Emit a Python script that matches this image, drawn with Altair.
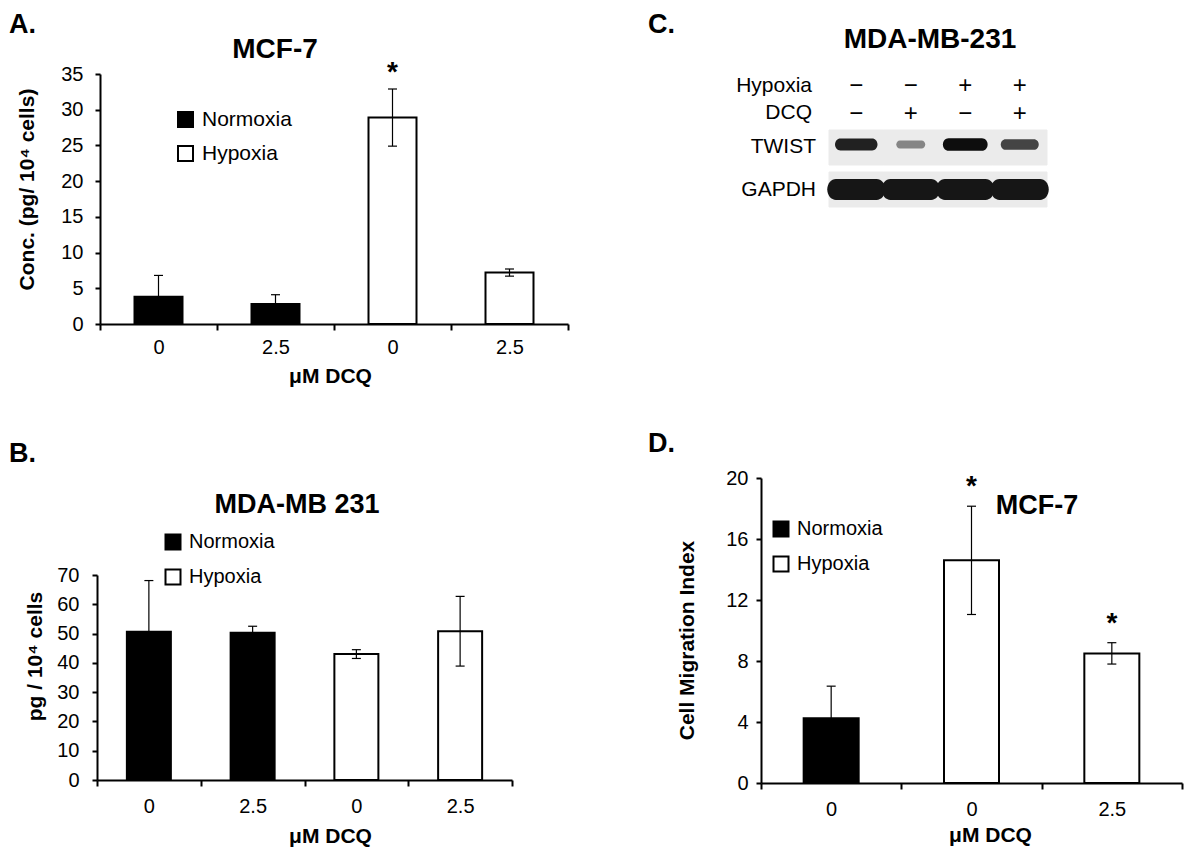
import altair as alt
import pandas as pd

FONT = "Liberation Sans"
W, H = 1184, 840
MARGIN = 8


def px(v):
    return v - MARGIN


# ---------------- data ----------------
conditions = ["Normoxia", "Hypoxia"]

a_condition = ["Normoxia", "Normoxia", "Hypoxia", "Hypoxia"]
a_dose = ["0", "2.5", "0", "2.5"]
a_mean = [3.8, 2.8, 28.9, 7.2]
a_err = [3.0, 1.3, 4.0, 0.5]
a_star = ["", "", "*", ""]
a_yticks = [0, 5, 10, 15, 20, 25, 30, 35]

b_condition = ["Normoxia", "Normoxia", "Hypoxia", "Hypoxia"]
b_dose = ["0", "2.5", "0", "2.5"]
b_mean = [50.6, 50.3, 43.0, 50.8]
b_err = [17.5, 2.2, 1.5, 11.9]
b_star = ["", "", "", ""]
b_yticks = [0, 10, 20, 30, 40, 50, 60, 70]

d_condition = ["Normoxia", "Hypoxia", "Hypoxia"]
d_dose = ["0", "0", "2.5"]
d_mean = [4.25, 14.6, 8.5]
d_err = [2.1, 3.55, 0.7]
d_star = ["", "*", "*"]
d_yticks = [0, 4, 8, 12, 16, 20]

c_lanes = [1, 2, 3, 4]
c_hypoxia = ["\u2212", "\u2212", "+", "+"]
c_dcq = ["\u2212", "+", "\u2212", "+"]
c_twist = [0.9, 0.42, 1.0, 0.72]
c_gapdh = [1.0, 1.0, 1.0, 1.0]
c_rows = ["TWIST", "GAPDH"]


def frame(cond, dose, mean, err, star):
    df = pd.DataFrame({"condition": cond, "dose": dose, "mean": mean,
                       "err": err, "star": star})
    df["key"] = df["condition"] + "|" + df["dose"]
    df["lo"] = df["mean"] - df["err"]
    df["hi"] = df["mean"] + df["err"]
    return df


def bar_panel(df, ymax, yticks, ytitle, x0, x1, y0, y1, bar, ylab_pad,
              xlab_pad, ytitle_xy, xtitle_xy, legend_xy, legend_font, star_dy):
    keys = list(df["key"])
    xs = alt.Scale(domain=keys, range=[px(x0), px(x1)],
                   paddingInner=0, paddingOuter=0)
    ys = alt.Scale(domain=[0, ymax], range=[px(y0), px(y1)], nice=False, zero=True)
    xaxis = alt.Axis(orient="bottom", offset=px(y0) - H, tickBand="extent",
                     tickSize=6, labelAngle=0, labelPadding=xlab_pad,
                     labelExpr="split(datum.label, '|')[1]",
                     title="\u03bcM DCQ", titleX=px(xtitle_xy[0]),
                     titleY=xtitle_xy[1] - y0, titleBaseline="middle",
                     titleAlign="center", grid=False)
    yaxis = alt.Axis(orient="left", offset=-px(x0), values=yticks, tickSize=5,
                     labelPadding=ylab_pad, title=ytitle,
                     titleX=ytitle_xy[0] - x0, titleY=px(ytitle_xy[1]),
                     titleAngle=270, titleBaseline="middle",
                     titleAlign="center", grid=False)
    xenc = alt.X("key:N", scale=xs)
    legend = alt.Legend(orient="none", legendX=px(legend_xy[0]),
                        legendY=px(legend_xy[1]), title=None,
                        symbolType="square", symbolSize=225,
                        symbolStrokeColor="black", symbolStrokeWidth=2,
                        symbolOpacity=1, labelFont=FONT,
                        labelFontSize=legend_font, labelColor="black",
                        rowPadding=11, labelOffset=6, padding=0)
    bars = alt.Chart(df).mark_bar(size=bar, stroke="black", strokeWidth=2).encode(
        x=alt.X("key:N", scale=xs, axis=xaxis),
        y=alt.Y("mean:Q", scale=ys, axis=yaxis),
        fill=alt.Fill("condition:N",
                      scale=alt.Scale(domain=conditions, range=["black", "white"]),
                      legend=legend),
    )
    rule = alt.Chart(df).mark_rule(color="black", strokeWidth=1.2).encode(
        x=xenc, y=alt.Y("lo:Q", scale=ys), y2="hi:Q")
    cap_hi = alt.Chart(df).mark_tick(orient="horizontal", size=9, thickness=1.2,
                                     color="black", opacity=1).encode(
        x=xenc, y=alt.Y("hi:Q", scale=ys))
    cap_lo = alt.Chart(df).mark_tick(orient="horizontal", size=9, thickness=1.2,
                                     color="black", opacity=1).encode(
        x=xenc, y=alt.Y("lo:Q", scale=ys))
    stars = alt.Chart(df).mark_text(font=FONT, fontSize=28, fontWeight="bold",
                                    baseline="alphabetic", dy=star_dy,
                                    color="black").encode(
        x=xenc, y=alt.Y("hi:Q", scale=ys), text="star:N")
    return alt.layer(bars, rule, cap_hi, cap_lo, stars)


def label(text, x, y, size, weight="normal", align="center", baseline="middle"):
    return alt.Chart(pd.DataFrame({"t": [text]})).mark_text(
        font=FONT, fontSize=size, fontWeight=weight, align=align,
        baseline=baseline, color="black").encode(
        text="t:N", x=alt.value(px(x)), y=alt.value(px(y)))


panel_a = bar_panel(frame(a_condition, a_dose, a_mean, a_err, a_star), 35,
                    a_yticks, "Conc. (pg/ 10\u2074 cells)",
                    x0=100, x1=568, y0=324, y1=74, bar=48, ylab_pad=12,
                    xlab_pad=7, ytitle_xy=(27, 189), xtitle_xy=(330, 376),
                    legend_xy=(175, 109), legend_font=21, star_dy=-8)

panel_b = bar_panel(frame(b_condition, b_dose, b_mean, b_err, b_star), 70,
                    b_yticks, "pg / 10\u2074 cells",
                    x0=97, x1=512, y0=780, y1=575, bar=44, ylab_pad=13,
                    xlab_pad=10, ytitle_xy=(35, 656), xtitle_xy=(330, 836),
                    legend_xy=(163, 532), legend_font=20, star_dy=-8)

panel_d = bar_panel(frame(d_condition, d_dose, d_mean, d_err, d_star), 20,
                    d_yticks, "Cell Migration Index",
                    x0=761, x1=1182, y0=783, y1=478, bar=55, ylab_pad=8,
                    xlab_pad=10, ytitle_xy=(687, 640), xtitle_xy=(990, 835),
                    legend_xy=(771, 519), legend_font=20, star_dy=-11)

# ---------------- panel C (western blot) ----------------
lane_scale = alt.Scale(domain=c_lanes, range=[px(829), px(1047)],
                       paddingInner=0, paddingOuter=0)
row_scale = alt.Scale(domain=c_rows, range=[px(130), px(207)],
                      paddingInner=0.1667, paddingOuter=0)
lane_x = alt.X("lane:O", scale=lane_scale, axis=None)
row_y = alt.Y("row:N", scale=row_scale, axis=None)

BAND_T = "M -0.75 -0.28 L 0.75 -0.28 A 0.25 0.28 0 0 1 0.75 0.28 L -0.75 0.28 A 0.25 0.28 0 0 1 -0.75 -0.28 Z"
BAND_G = "M -0.7 -0.36 L 0.7 -0.36 A 0.3 0.36 0 0 1 0.7 0.36 L -0.7 0.36 A 0.3 0.36 0 0 1 -0.7 -0.36 Z"

bg_df = pd.DataFrame([(r, l) for r in c_rows for l in c_lanes],
                     columns=["row", "lane"])
blot_bg = alt.Chart(bg_df).mark_rect(fill="#ebebeb", stroke="#ebebeb",
                                     strokeWidth=1).encode(x=lane_x, y=row_y)

twist_df = pd.DataFrame({"lane": c_lanes, "row": "TWIST", "signal": c_twist})
twist = alt.Chart(twist_df).mark_point(shape=BAND_T, filled=True, opacity=1,
                                       yOffset=-3).encode(
    x=lane_x, y=row_y,
    size=alt.Size("signal:Q", scale=alt.Scale(domain=[0, 1], range=[0, 2000]),
                  legend=None),
    fill=alt.Fill("signal:Q",
                  scale=alt.Scale(domain=[0, 1], range=["#ebebeb", "#0d0d0d"]),
                  legend=None),
)

gapdh_df = pd.DataFrame({"lane": c_lanes, "row": "GAPDH", "signal": c_gapdh})
gapdh = alt.Chart(gapdh_df).mark_point(shape=BAND_G, filled=True, opacity=1,
                                       size=3364, fill="#161616").encode(
    x=lane_x, y=row_y)

row_lab = alt.Chart(pd.DataFrame({"row": c_rows})).mark_text(
    font=FONT, fontSize=21, align="right", baseline="middle", color="black").encode(
    x=alt.value(px(816)), y=row_y, text="row:N")

sign_df = pd.DataFrame({"lane": c_lanes, "hyp": c_hypoxia, "dcq": c_dcq})
hyp_signs = alt.Chart(sign_df).mark_text(
    font=FONT, fontSize=24, baseline="middle", color="black").encode(
    x=lane_x, y=alt.value(px(86)), text="hyp:N")
dcq_signs = alt.Chart(sign_df).mark_text(
    font=FONT, fontSize=24, baseline="middle", color="black").encode(
    x=lane_x, y=alt.value(px(114)), text="dcq:N")

panel_c = alt.layer(blot_bg, twist, gapdh, row_lab, hyp_signs, dcq_signs)

labels = [
    label("A.", 9, 33, 27, "bold", "left", "alphabetic"),
    label("B.", 9, 462, 27, "bold", "left", "alphabetic"),
    label("C.", 648, 33, 27, "bold", "left", "alphabetic"),
    label("D.", 648, 452, 27, "bold", "left", "alphabetic"),
    label("MCF-7", 275, 50, 28, "bold"),
    label("MDA-MB 231", 297, 505, 27, "bold"),
    label("MDA-MB-231", 930, 40, 28, "bold"),
    label("MCF-7", 1037, 506, 27, "bold"),
    label("Hypoxia", 812, 86, 21, "normal", "right"),
    label("DCQ", 812, 113, 21, "normal", "right"),
]

chart = alt.layer(panel_a, panel_b, panel_c, panel_d, *labels).resolve_scale(
    x="independent", y="independent", fill="independent", size="independent"
).resolve_axis(
    x="independent", y="independent"
).resolve_legend(
    fill="independent", size="independent"
).properties(
    width=W, height=H, padding=0, autosize=alt.AutoSizeParams(type="none")
).configure_view(
    stroke=None
).configure_axis(
    labelFont=FONT, labelFontSize=20, labelColor="black",
    titleFont=FONT, titleFontSize=21, titleFontWeight="bold", titleColor="black",
    domainColor="black", domainWidth=2, tickColor="black", tickWidth=2,
    grid=False,
)

chart.save("out.html", embed_options={"renderer": "svg", "actions": False})
